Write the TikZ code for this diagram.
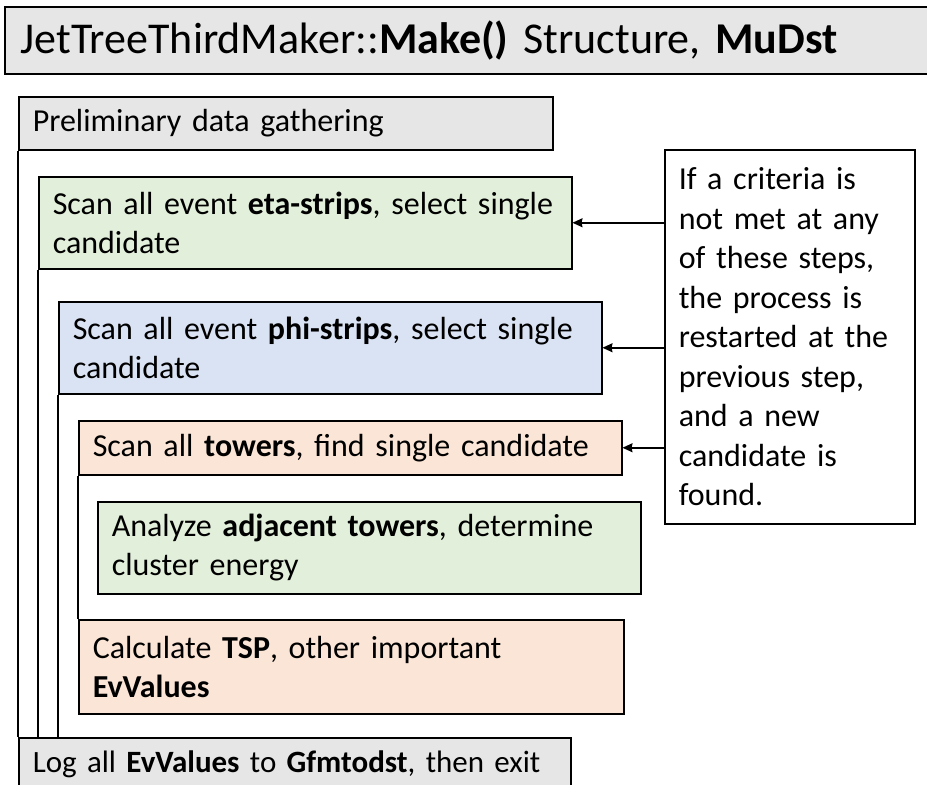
\documentclass[tikz,border=0pt]{standalone}
\usepackage{fontspec}
\setmainfont{Carlito}
\usepackage{tikz}
\usetikzlibrary{positioning, calc, arrows.meta}

\definecolor{boxgray}{HTML}{E6E6E6}
\definecolor{boxgreen}{HTML}{E2EFDA}
\definecolor{boxblue}{HTML}{DAE3F3}
\definecolor{boxorange}{HTML}{FBE5D6}

\begin{document}
\begin{tikzpicture}[x=1pt, y=-1pt, >={Stealth[length=10pt, width=9pt, inset=1pt]},
    stepbox/.style={draw, line width=1.5pt, anchor=north west, inner xsep=14pt,
        inner ysep=0pt, font=\fontsize{32}{39.5}\selectfont},
    arr/.style={->, line width=1.5pt}]
    % Canvas
    \useasboundingbox (0,0) rectangle (927,785);
    \clip (0,0) rectangle (927,785);

    % Title bar
    \node[stepbox, fill=boxgray, text width=900pt, minimum height=67pt, inner xsep=16pt,
        font=\fontsize{44}{48}\selectfont] (title) at (4,6)
        {JetTreeThirdMaker::\textbf{Make()} Structure, \textbf{MuDst}};

    % Nested steps
    \node[stepbox, fill=boxgray, text width=506pt, minimum height=53pt] (pre) at (18,96)
        {Preliminary data gathering};
    \node[stepbox, fill=boxgreen, text width=505pt, minimum height=92pt] (eta) at (38,176)
        {Scan all event \textbf{eta-strips}, select single\\candidate};
    \node[stepbox, fill=boxblue, text width=515pt, minimum height=92pt] (phi) at (58,301)
        {Scan all event \textbf{phi-strips}, select single\\candidate};
    \node[stepbox, fill=boxorange, text width=515pt, minimum height=54pt] (tow) at (78,420)
        {Scan all \textbf{towers}, find single candidate};
    \node[stepbox, fill=boxgreen, text width=515pt, minimum height=92pt] (adj) at (97,501)
        {Analyze \textbf{adjacent towers}, determine\\cluster energy};
    \node[stepbox, fill=boxorange, text width=517pt, minimum height=94pt] (calc) at (78,619)
        {Calculate \textbf{TSP}, other important\\\textbf{EvValues}};
    \node[stepbox, fill=boxgray, text width=524pt, minimum height=54pt,
        font=\fontsize{31}{39.5}\selectfont] (log) at (18,737)
        {Log all \textbf{EvValues} to \textbf{Gfmtodst}, then exit};

    % Loop brackets
    \draw[line width=1.5pt] (pre.south west) -- (log.north west);
    \draw[line width=1.5pt] (eta.south west) -- (eta.south west |- log.north);
    \draw[line width=1.5pt] (phi.south west) -- (phi.south west |- log.north);
    \draw[line width=1.5pt] (tow.south west) -- (calc.north west);

    % Side note
    \node[stepbox, fill=white, text width=222pt, minimum height=374pt] (note) at (664,149)
        {If a criteria is\\not met at any\\of these steps,\\the process is\\restarted at the\\previous step,\\and a new\\candidate is\\found.};

    % Restart arrows
    \draw[arr] (eta.east -| note.west) -- (eta.east);
    \draw[arr] (phi.east -| note.west) -- (phi.east);
    \draw[arr] (tow.east -| note.west) -- (tow.east);

\end{tikzpicture}
\end{document}
